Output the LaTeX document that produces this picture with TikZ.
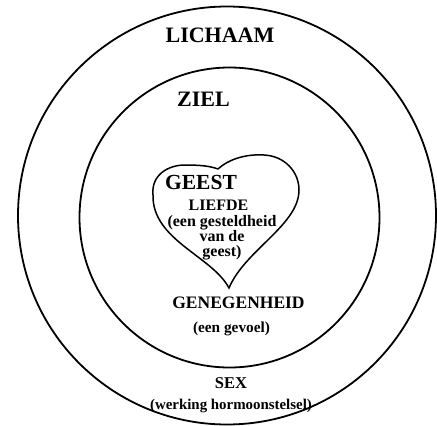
\documentclass[tikz,border=0pt]{standalone}
\usepackage{fontspec}
\setmainfont{Liberation Serif}
\usepackage{tikz}
\usetikzlibrary{positioning}

\begin{document}
\begin{tikzpicture}[x=1pt, y=-1pt,
  lbl/.style={inner sep=0pt, font=\bfseries},
  ring/.style={line width=1.8pt, black}]
\useasboundingbox (0,0) rectangle (437,426);
% the two rings
\draw[ring] (227,215.5) circle [radius=209];
\draw[ring] (229.5,217.5) circle [radius=150];
% heart
\draw[line width=1.5pt] (218,169) .. controls (230,158) and (248,154) .. (264,155)
  .. controls (285,156) and (299,172) .. (299,190)
  .. controls (299,225) and (245,250) .. (229,288)
  .. controls (212,256) and (152,240) .. (153,195)
  .. controls (151,175) and (168,165) .. (185,165)
  .. controls (200,165) and (210,166) .. (218,169);
% labels
\node[lbl, font=\bfseries\fontsize{22}{24}\selectfont] (lichaam) at (220,35) {LICHAAM};
\node[lbl, font=\bfseries\fontsize{22}{24}\selectfont] (ziel) at (203.5,99.5) {ZIEL};
\node[lbl, font=\bfseries\fontsize{21.5}{24}\selectfont] (geest) at (201,182) {GEEST};
\node[lbl, font=\bfseries\fontsize{16}{18}\selectfont] (liefde) at (218.5,205) {LIEFDE};
\node[lbl, font=\bfseries\fontsize{16}{15}\selectfont, align=center, anchor=north]
  (gesteld) at (222,215) {(een gesteldheid\\van de\\geest)};
\node[lbl, font=\bfseries\fontsize{17.5}{20}\selectfont] (genegen) at (238.5,302.5) {GENEGENHEID};
\node[lbl, font=\bfseries\fontsize{15.3}{18}\selectfont] (gevoel) at (231.5,329) {(een gevoel)};
\node[lbl, font=\bfseries\fontsize{16.5}{18}\selectfont] (sex) at (231,383) {SEX};
\node[lbl, font=\bfseries\fontsize{14.9}{17}\selectfont] (hormoon) at (231,406) {(werking hormoonstelsel)};
\end{tikzpicture}
\end{document}
